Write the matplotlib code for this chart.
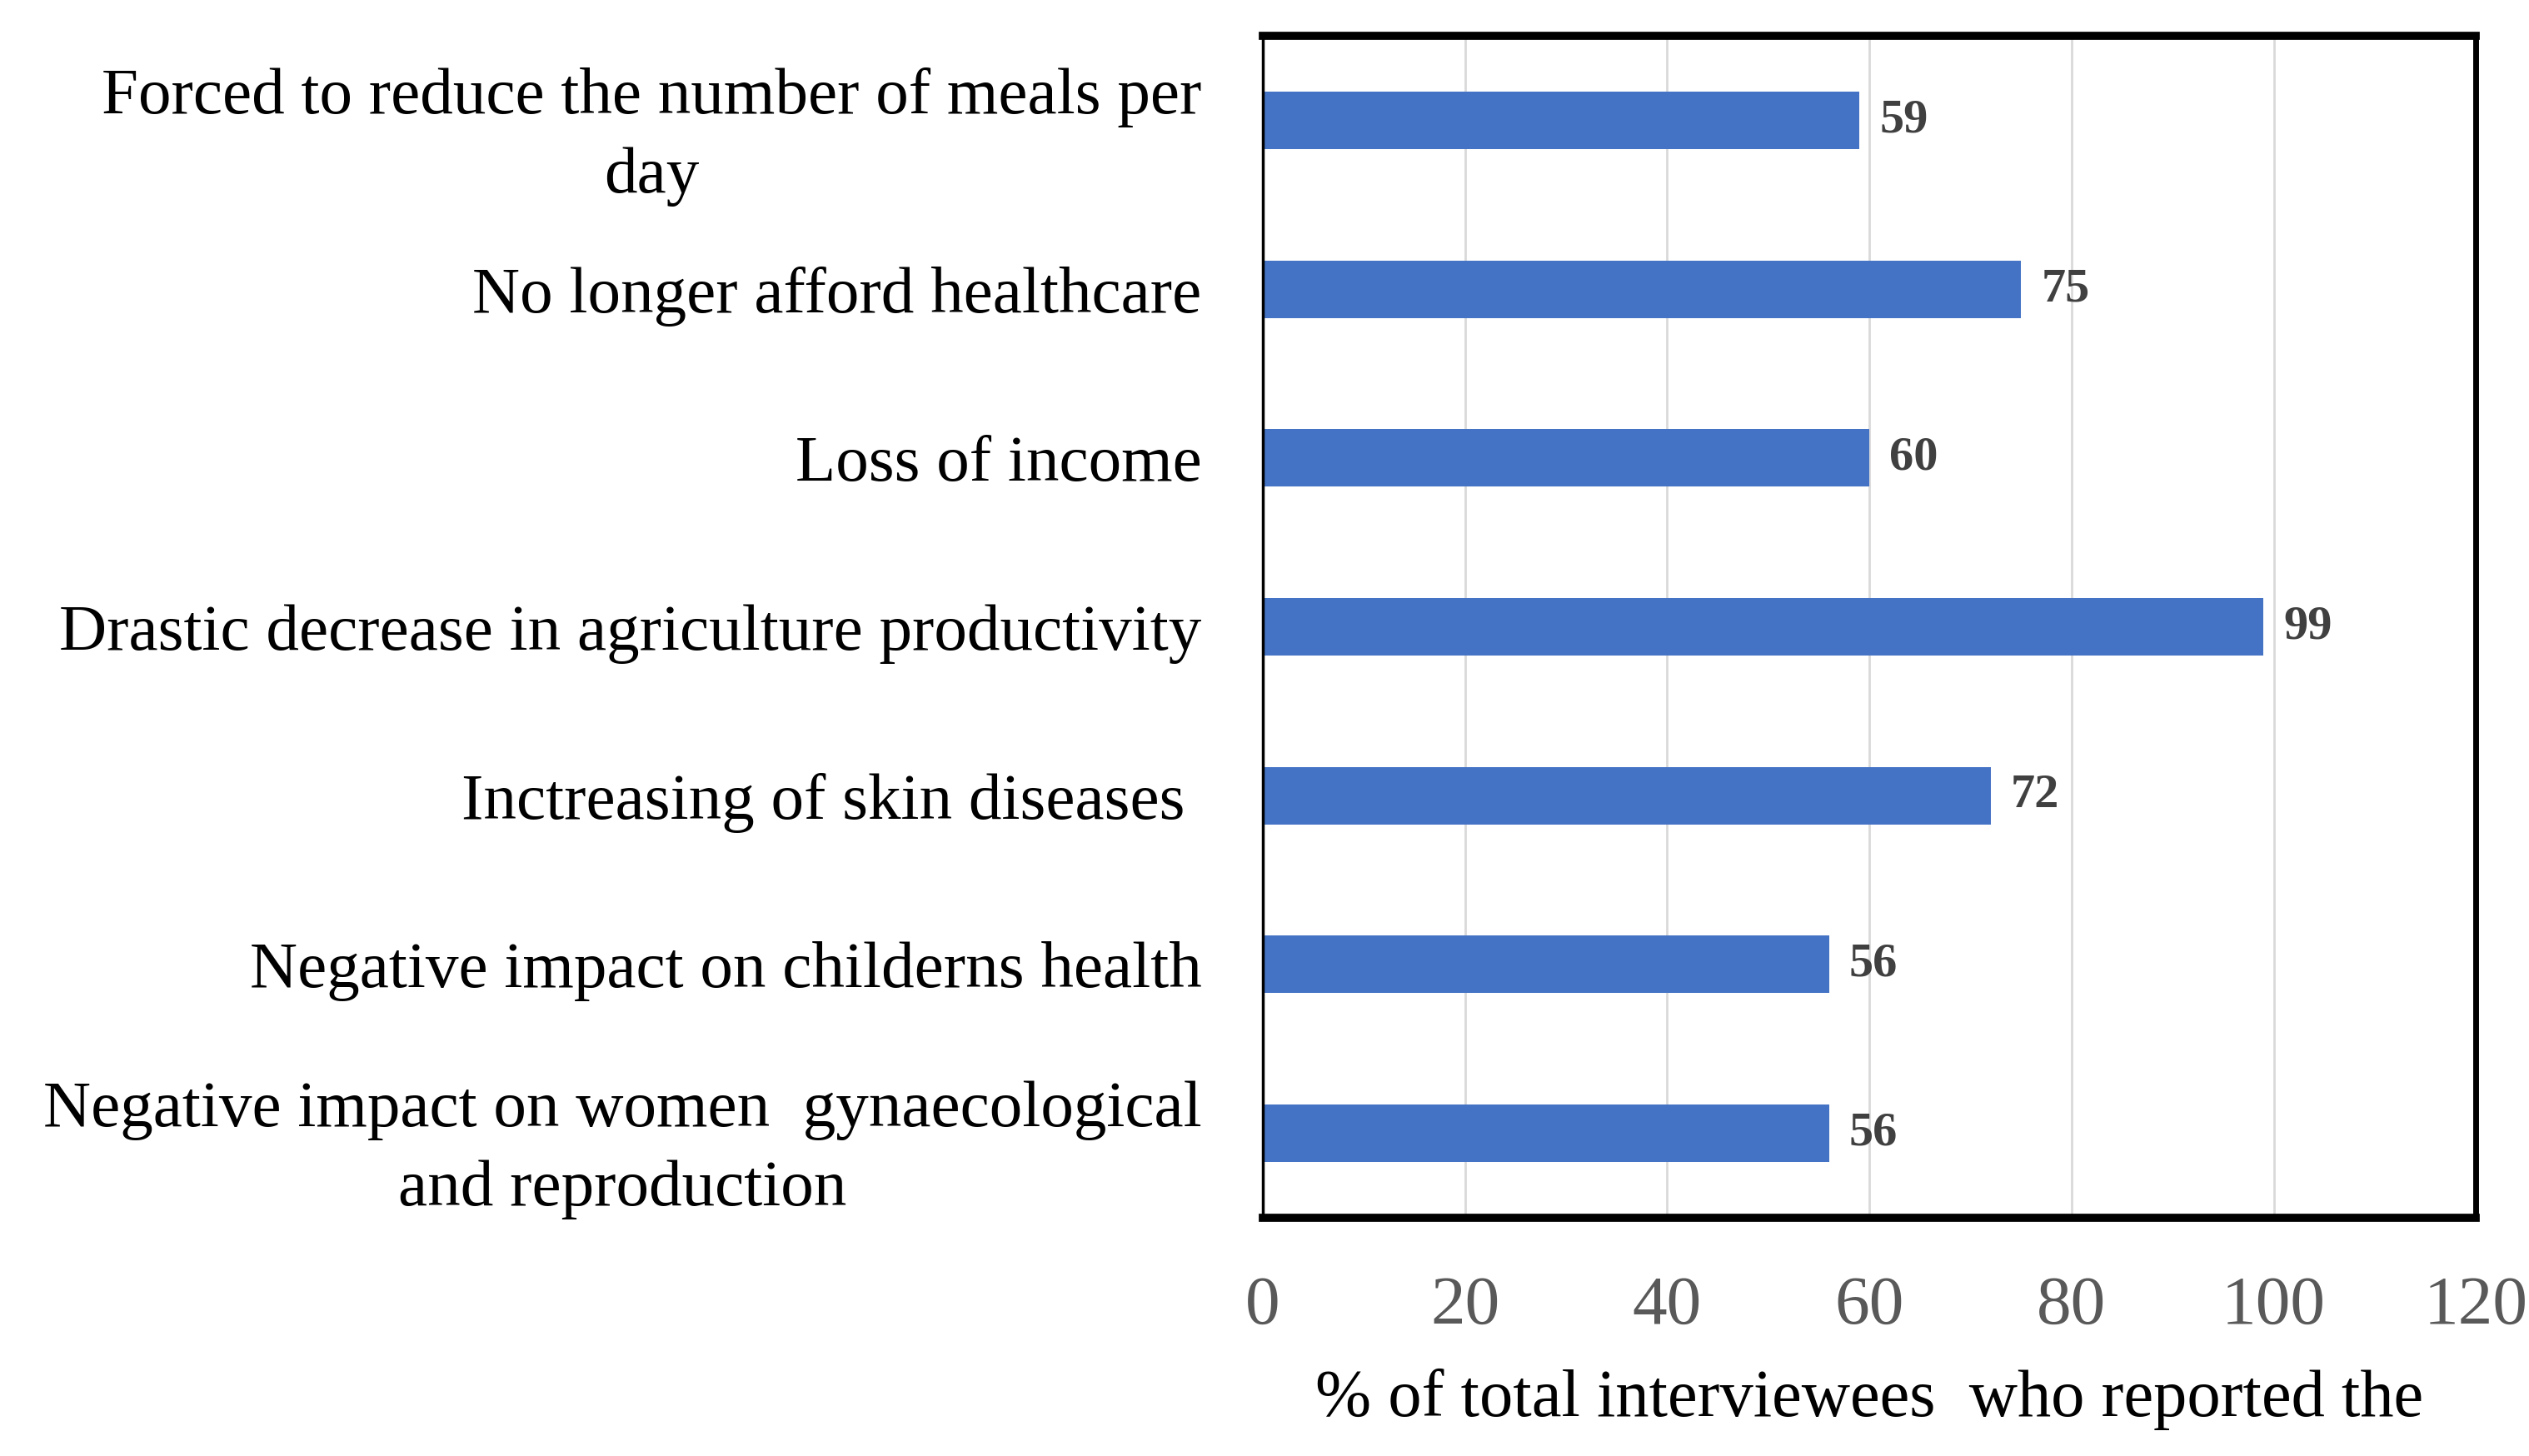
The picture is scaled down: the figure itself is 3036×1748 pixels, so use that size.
import matplotlib.pyplot as plt
import numpy as np

categories = [
    "Forced to reduce the number of meals per\nday",
    "No longer afford healthcare",
    "Loss of income",
    "Drastic decrease in agriculture productivity",
    "Inctreasing of skin diseases ",
    "Negative impact on childerns health",
    "Negative impact on women  gynaecological\nand reproduction",
]
values = [59, 75, 60, 99, 72, 56, 56]
xticks = [0, 20, 40, 60, 80, 100, 120]
xlabel = "% of total interviewees  who reported the"

plt.rcParams['font.family'] = ['Liberation Serif', 'DejaVu Serif']

fig = plt.figure(figsize=(30.36, 17.48), dpi=100)
ax = fig.add_axes([0.4993, 0.1636, 0.4797, 0.8118])

pos = np.arange(len(categories))
ax.barh(pos, values, height=0.34, color='#4472C4', zorder=3)
for p, v in zip(pos, values):
    ax.text(v + 2.0, p, str(v), va='center', ha='left', fontsize=42,
            fontweight='bold', color='#404040')

ax.set_xlim(0, 120)
ax.set_ylim(6.5, -0.5)
ax.set_xticks(xticks)
ax.set_xticklabels([str(t) for t in xticks], fontsize=60, color='#595959')
ax.set_yticks(pos)
ax.set_yticklabels(categories, fontsize=57, color='black', multialignment='center', linespacing=1.42)
ax.tick_params(axis='both', length=0)
ax.tick_params(axis='x', pad=50)
ax.tick_params(axis='y', pad=53)
ax.grid(axis='x', color='#d9d9d9', linewidth=2, zorder=0)

ax.spines['left'].set_linewidth(2.5)
ax.spines['right'].set_linewidth(5)
ax.spines['top'].set_linewidth(7)
ax.spines['bottom'].set_linewidth(7)
for s in ax.spines.values():
    s.set_color('black')
    s.set_zorder(4)

ax.set_xlabel(xlabel, fontsize=58, color='black', labelpad=26)

fig.savefig("out.png", dpi=100)
